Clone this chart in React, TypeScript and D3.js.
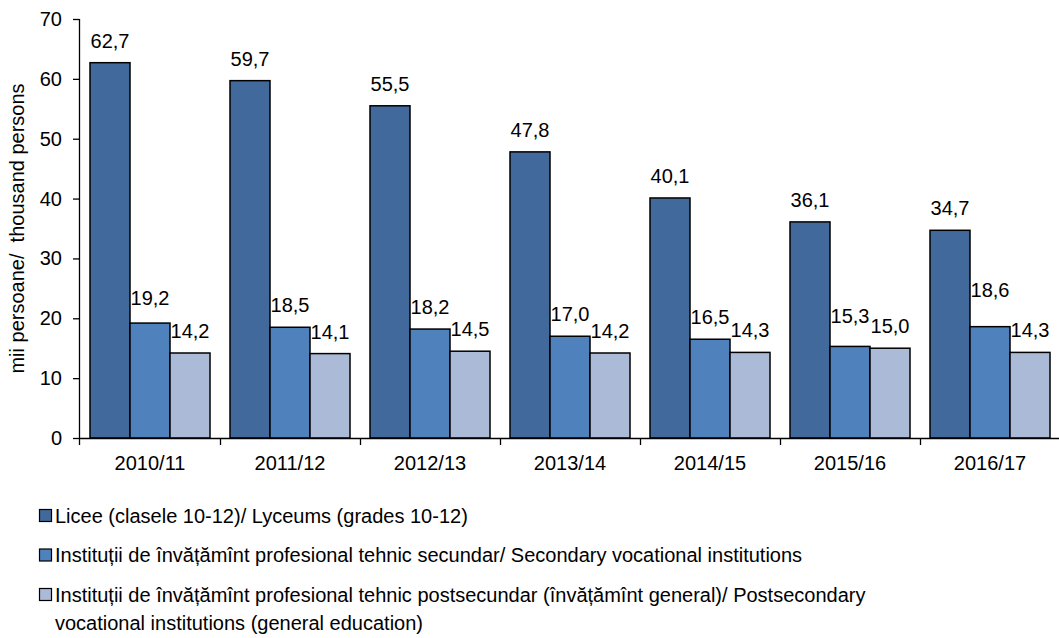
import React from "react";
import * as d3 from "d3";

const categories = ["2010/11", "2011/12", "2012/13", "2013/14", "2014/15", "2015/16", "2016/17"];
const seriesNames = [
  "Licee (clasele 10-12)/ Lyceums (grades 10-12)",
  "Instituții de învățămînt profesional tehnic secundar/ Secondary vocational institutions",
  "Instituții de învățămînt profesional tehnic postsecundar (învățămînt general)/ Postsecondary",
];
const legendExtraLine = "vocational institutions (general education)";
const lyceums = [62.7, 59.7, 55.5, 47.8, 40.1, 36.1, 34.7];
const secondary = [19.2, 18.5, 18.2, 17.0, 16.5, 15.3, 18.6];
const postsecondary = [14.2, 14.1, 14.5, 14.2, 14.3, 15.0, 14.3];
// extra upward nudge (px) of individual value labels, as placed in the source chart
const secondaryLabelLift = [3, 0, 0, 0, 0, 8, 15];
const yTicks = [0, 10, 20, 30, 40, 50, 60, 70];
const colors = ["#41699B", "#4F81BD", "#AABAD7"];
const yTitle = "mii persoane/  thousand persons";

const W = 1059;
const H = 638;
const FONT = "Arial, 'Liberation Sans', sans-serif";
const FS = 20;

export default function App() {
  const series = [lyceums, secondary, postsecondary];
  const lifts = [lyceums.map(() => 0), secondaryLabelLift, postsecondary.map(() => 0)];
  const x0 = d3.scaleBand<string>().domain(categories).range([80, 1060]).paddingInner(0).paddingOuter(0);
  const x1 = d3
    .scaleBand<number>()
    .domain([0, 1, 2])
    .range([10, x0.bandwidth() - 10])
    .padding(0);
  const y = d3.scaleLinear().domain([0, 70]).range([438, 19]);
  const fmt = (v: number) => v.toFixed(1).replace(".", ",");
  const textProps = { fontFamily: FONT, fontSize: FS, fill: "#000" };

  return (
    <svg width={W} height={H} style={{ position: "absolute", left: 0, top: 0, background: "#fff" }}>
      {/* bars */}
      {categories.map((c, i) => (
        <g key={c} transform={`translate(${x0(c)},0)`}>
          {series.map((s, k) => (
            <rect
              key={k}
              x={x1(k)}
              y={y(s[i])}
              width={x1.bandwidth()}
              height={y(0) - y(s[i])}
              fill={colors[k]}
              stroke="#000"
              strokeWidth={1.5}
            />
          ))}
          {series.map((s, k) => (
            <text
              key={"t" + k}
              x={(x1(k) as number) + x1.bandwidth() / 2}
              y={y(s[i]) - 15 - lifts[k][i]}
              textAnchor="middle"
              {...textProps}
            >
              {fmt(s[i])}
            </text>
          ))}
        </g>
      ))}
      {/* y axis */}
      <line x1={79.5} x2={79.5} y1={y(70)} y2={445} stroke="#000" strokeWidth={1.3} />
      {yTicks.map((t) => (
        <g key={t}>
          <line x1={73} x2={79.5} y1={y(t) + 0.5} y2={y(t) + 0.5} stroke="#000" strokeWidth={1.3} />
          <text x={62} y={y(t)} dy="0.35em" textAnchor="end" {...textProps}>
            {t}
          </text>
        </g>
      ))}
      {/* x axis */}
      <line x1={79.5} x2={1060} y1={438.5} y2={438.5} stroke="#000" strokeWidth={1.3} />
      {categories.map((c, i) =>
        i > 0 ? (
          <line
            key={"xt" + c}
            x1={(x0(c) as number) + 0.5}
            x2={(x0(c) as number) + 0.5}
            y1={438.5}
            y2={445}
            stroke="#000"
            strokeWidth={1.3}
          />
        ) : null
      )}
      {categories.map((c) => (
        <text
          key={"xl" + c}
          x={(x0(c) as number) + x0.bandwidth() / 2}
          y={470}
          textAnchor="middle"
          {...textProps}
        >
          {c}
        </text>
      ))}
      {/* y title */}
      <text
        transform={`translate(24,${(y(0) + y(70)) / 2}) rotate(-90)`}
        textAnchor="middle"
        {...textProps}
        style={{ whiteSpace: "pre" }}
      >
        {yTitle}
      </text>
      {/* legend */}
      {seriesNames.map((n, k) => {
        const cy = 515.5 + k * 39.5;
        return (
          <g key={"lg" + k}>
            <rect x={39.5} y={cy - 6} width={12} height={12} fill={colors[k]} stroke="#000" strokeWidth={1.2} />
            <text x={55} y={cy} dy="0.35em" {...textProps}>
              {n}
            </text>
          </g>
        );
      })}
      <text x={55} y={515.5 + 2 * 39.5 + 28} dy="0.35em" {...textProps}>
        {legendExtraLine}
      </text>
    </svg>
  );
}
